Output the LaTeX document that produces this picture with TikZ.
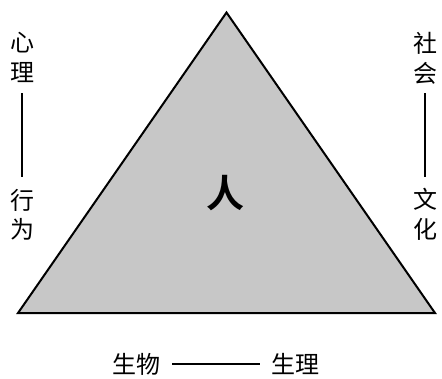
\documentclass[tikz,border=0pt]{standalone}
\usepackage{fontspec}
\newfontfamily\cjk{Noto Sans CJK SC}
\newfontfamily\cjkbold{Noto Sans CJK SC Bold}
\begin{document}
\begin{tikzpicture}[x=1pt,y=-1pt,
  lab/.style={font=\cjk\fontsize{24}{24}\selectfont, inner sep=0pt},
  rule/.style={line width=1.3pt, black}]
\useasboundingbox (0,0) rectangle (442,378);
% triangle
\coordinate (apex) at (226.5,12.5);
\coordinate (bl) at (18,313);
\coordinate (br) at (435,313);
\filldraw[fill=black!22, draw=black, line width=2pt, line join=miter] (apex) -- (bl) -- (br) -- cycle;
\node[inner sep=0pt, font=\cjkbold\fontsize{38}{38}\selectfont] (ren) at (225,193) {人};
% left
\node[lab] (xin) at (22,43) {心};
\node[lab] (li) at (22,73) {理};
\node[lab] (xing) at (22,200) {行};
\node[lab] (wei) at (22,229) {为};
\coordinate (l1) at (22,93);
\coordinate (l2) at (22,177);
\draw[rule] (l1) -- (l2);
% right
\node[lab] (she) at (425,43) {社};
\node[lab] (hui) at (425,73) {会};
\node[lab] (wen) at (425,199) {文};
\node[lab] (hua) at (425,229) {化};
\coordinate (r1) at (425,93);
\coordinate (r2) at (425,177);
\draw[rule] (r1) -- (r2);
% bottom
\node[lab] (shengwu) at (136,364) {生物};
\node[lab] (shengli) at (295,364) {生理};
\draw[rule] ([xshift=12pt]shengwu.east) -- ([xshift=-11pt]shengli.west);
\end{tikzpicture}
\end{document}
